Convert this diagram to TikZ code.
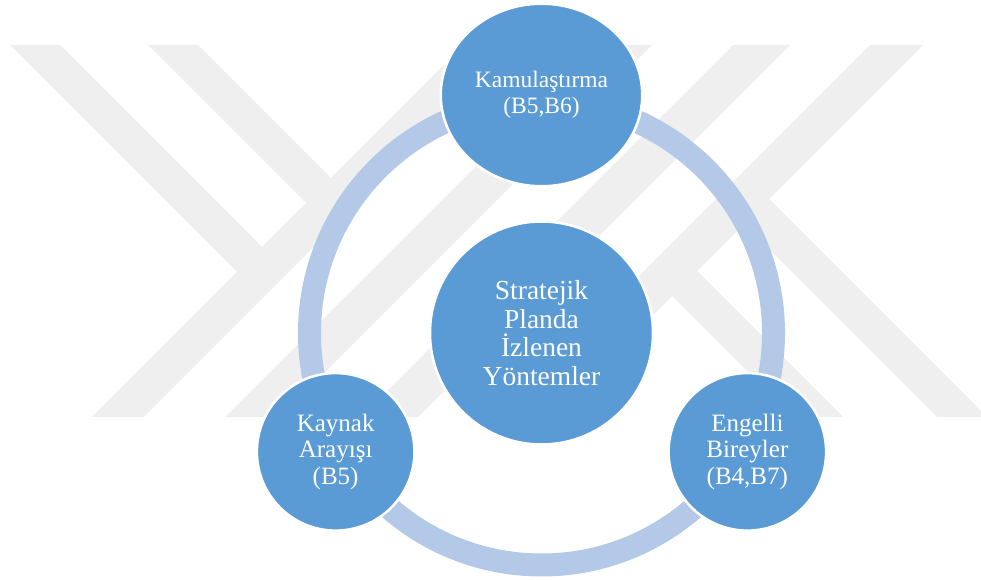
\documentclass[tikz,border=0pt]{standalone}
\usepackage{fontspec}
\setmainfont{Liberation Serif}
\usetikzlibrary{shapes,positioning}
\definecolor{diskblue}{RGB}{91,155,213}
\definecolor{ringblue}{RGB}{180,200,231}
\definecolor{markgray}{RGB}{239,239,239}
\tikzstyle{disk}=[circle,fill=diskblue,draw=white,line width=2.5pt,text=white,align=center,inner sep=0pt]
\tikzstyle{hub}=[disk,minimum size=223pt,font=\fontsize{27.5}{28.7}\selectfont]
\tikzstyle{sat}=[disk,minimum size=157.5pt,font=\fontsize{25}{26.7}\selectfont]
\tikzstyle{topsat}=[disk,ellipse,minimum width=201.5pt,minimum height=182.5pt,font=\fontsize{23.5}{26.7}\selectfont]
\tikzstyle{band}=[fill=markgray,draw=none]
\tikzstyle{ring}=[draw=ringblue,line width=23pt]

\begin{document}
\begin{tikzpicture}[x=1pt,y=1pt]
\useasboundingbox (0,0) rectangle (981,580);
% watermark in the back
\fill[band] (92,163) -- (144,163) -- (516,535) -- (464,535) -- cycle;
\fill[band] (225,163) -- (280,163) -- (652,535) -- (597,535) -- cycle;
\fill[band] (10,535) -- (60,535) -- (275,320) -- (250,295) -- cycle;
\fill[band] (148,535) -- (198,535) -- (344,389) -- (319,364) -- cycle;
\fill[band] (733,535) -- (790,535) -- (418,163) -- (361,163) -- cycle;
\fill[band] (870,535) -- (923,535) -- (551,163) -- (498,163) -- cycle;
\fill[band] (658,298) -- (683,323) -- (843,163) -- (793,163) -- cycle;
\fill[band] (730,370) -- (755,395) -- (987,163) -- (937,163) -- cycle;
\begin{scope}[shift={(541.5,247)}]
        \node[hub] (S) at (0,0) {Stratejik\\Planda\\İzlenen\\Yöntemler};
        \draw[ring] (S) circle (232);
        \node[topsat] (kamu) at (90:238) {Kamulaştırma\\(B5,B6)};
        \foreach \a/\b/\t in {210/kaynak/{Kaynak\\Arayışı\\(B5)}, 330/engelli/{Engelli\\Bireyler\\(B4,B7)}}{
          \node[sat] (\b) at (\a:237.7) {\t};
        }
\end{scope}
\end{tikzpicture}
\end{document}
